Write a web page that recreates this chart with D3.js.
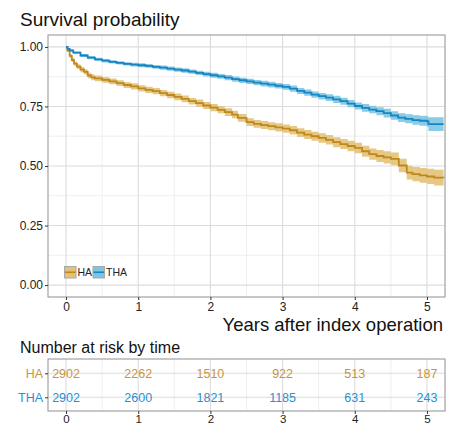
<!DOCTYPE html>
<html>
<head>
<meta charset="utf-8">
<script src="https://cdn.jsdelivr.net/npm/d3@7"></script>
<style>
  body { margin: 0; background: #fff; }
  text { font-family: "Liberation Sans", Arial, Helvetica, sans-serif; }
</style>
</head>
<body>
<div id="chart"></div>
<script>
// survival curves (years, survival, lower CI, upper CI)
const haTime  = [0, 0.02, 0.05, 0.08, 0.11, 0.15, 0.2, 0.25, 0.3, 0.35, 0.4, 0.5, 0.6, 0.7, 0.8, 0.9, 1.0, 1.1, 1.2, 1.3, 1.4, 1.5, 1.6, 1.7, 1.8, 1.9, 2.0, 2.1, 2.2, 2.3, 2.38, 2.5, 2.6, 2.7, 2.8, 2.9, 3.0, 3.1, 3.2, 3.3, 3.4, 3.5, 3.6, 3.7, 3.8, 3.9, 4.0, 4.1, 4.2, 4.3, 4.4, 4.5, 4.61, 4.72, 4.8, 4.9, 5.0, 5.1, 5.23];
const haSurv  = [1.000, 0.985, 0.962, 0.945, 0.930, 0.917, 0.905, 0.895, 0.880, 0.872, 0.868, 0.862, 0.855, 0.848, 0.840, 0.834, 0.826, 0.820, 0.814, 0.806, 0.798, 0.790, 0.782, 0.772, 0.764, 0.754, 0.745, 0.736, 0.726, 0.716, 0.702, 0.684, 0.677, 0.672, 0.667, 0.662, 0.657, 0.650, 0.640, 0.632, 0.625, 0.618, 0.610, 0.600, 0.592, 0.584, 0.576, 0.562, 0.550, 0.542, 0.536, 0.530, 0.502, 0.472, 0.466, 0.461, 0.456, 0.451, 0.450];
const haLower = [1.000, 0.980, 0.955, 0.937, 0.921, 0.907, 0.894, 0.884, 0.868, 0.860, 0.856, 0.850, 0.843, 0.836, 0.828, 0.821, 0.813, 0.807, 0.801, 0.793, 0.784, 0.776, 0.768, 0.758, 0.749, 0.739, 0.730, 0.721, 0.710, 0.700, 0.686, 0.668, 0.661, 0.655, 0.650, 0.645, 0.640, 0.632, 0.622, 0.613, 0.606, 0.598, 0.590, 0.579, 0.571, 0.562, 0.554, 0.539, 0.526, 0.517, 0.510, 0.503, 0.474, 0.443, 0.436, 0.430, 0.424, 0.418, 0.416];
const haUpper = [1.000, 0.990, 0.969, 0.953, 0.939, 0.927, 0.916, 0.906, 0.892, 0.884, 0.880, 0.874, 0.867, 0.860, 0.852, 0.847, 0.839, 0.833, 0.827, 0.819, 0.812, 0.804, 0.796, 0.786, 0.779, 0.769, 0.760, 0.751, 0.742, 0.732, 0.718, 0.700, 0.693, 0.689, 0.684, 0.679, 0.674, 0.668, 0.658, 0.651, 0.644, 0.638, 0.630, 0.621, 0.613, 0.606, 0.598, 0.585, 0.574, 0.567, 0.562, 0.557, 0.530, 0.501, 0.496, 0.492, 0.488, 0.484, 0.484];

const thaTime  = [0, 0.02, 0.05, 0.1, 0.2, 0.3, 0.4, 0.5, 0.6, 0.7, 0.8, 0.9, 1.0, 1.1, 1.2, 1.3, 1.4, 1.5, 1.6, 1.7, 1.8, 1.9, 2.0, 2.1, 2.2, 2.3, 2.4, 2.5, 2.6, 2.7, 2.8, 2.9, 3.0, 3.1, 3.2, 3.3, 3.4, 3.5, 3.6, 3.7, 3.8, 3.9, 4.0, 4.1, 4.2, 4.3, 4.4, 4.5, 4.6, 4.7, 4.8, 4.9, 5.0, 5.02, 5.23];
const thaSurv  = [1.000, 0.992, 0.985, 0.976, 0.964, 0.955, 0.948, 0.942, 0.937, 0.933, 0.929, 0.926, 0.923, 0.920, 0.916, 0.913, 0.909, 0.905, 0.901, 0.896, 0.891, 0.886, 0.881, 0.876, 0.871, 0.865, 0.860, 0.855, 0.850, 0.846, 0.842, 0.837, 0.832, 0.825, 0.815, 0.808, 0.800, 0.793, 0.787, 0.780, 0.772, 0.762, 0.752, 0.744, 0.737, 0.730, 0.722, 0.712, 0.703, 0.698, 0.693, 0.690, 0.687, 0.676, 0.676];
const thaLower = [1.000, 0.989, 0.981, 0.971, 0.958, 0.948, 0.941, 0.935, 0.930, 0.926, 0.922, 0.918, 0.915, 0.912, 0.908, 0.904, 0.900, 0.896, 0.892, 0.887, 0.882, 0.876, 0.871, 0.866, 0.860, 0.854, 0.849, 0.844, 0.839, 0.834, 0.830, 0.825, 0.820, 0.812, 0.802, 0.795, 0.787, 0.779, 0.773, 0.765, 0.757, 0.747, 0.737, 0.728, 0.721, 0.713, 0.704, 0.694, 0.685, 0.679, 0.673, 0.669, 0.665, 0.647, 0.646];
const thaUpper = [1.000, 0.995, 0.989, 0.981, 0.970, 0.962, 0.955, 0.949, 0.944, 0.940, 0.936, 0.934, 0.931, 0.928, 0.924, 0.922, 0.918, 0.914, 0.910, 0.905, 0.900, 0.896, 0.891, 0.886, 0.882, 0.876, 0.871, 0.866, 0.861, 0.858, 0.854, 0.849, 0.844, 0.838, 0.828, 0.821, 0.813, 0.807, 0.801, 0.795, 0.787, 0.777, 0.767, 0.760, 0.753, 0.747, 0.740, 0.730, 0.721, 0.717, 0.713, 0.711, 0.709, 0.705, 0.706];

// number at risk table
const groups = ["HA", "THA"];
const riskTimes = [0, 1, 2, 3, 4, 5];
const riskHA = [2902, 2262, 1510, 922, 513, 187];
const riskTHA = [2902, 2600, 1821, 1185, 631, 243];

const xTicks = [0, 1, 2, 3, 4, 5];
const yTicks = [0, 0.25, 0.5, 0.75, 1.0];

const colors = {
  HA:  { line: "#BF8720", fill: "#E3C275", text: "#C8953E" },
  THA: { line: "#1983C4", fill: "#7BC6E3", text: "#2B8FD3" }
};

const W = 449, H = 426;
const panel = { left: 48, right: 445, top: 35, bottom: 297 };
const risk = { top: 359, bottom: 411 };

const svg = d3.select("#chart").append("svg")
  .attr("width", W).attr("height", H);

const x = d3.scaleLinear().domain([-0.25, 5.25]).range([panel.left, panel.right]);
const y = d3.scaleLinear().domain([-0.05, 1.05]).range([panel.bottom, panel.top]);

// title
svg.append("text").attr("x", 20).attr("y", 25.5)
  .attr("font-size", 19).attr("fill", "#111").text("Survival probability");

// grid
const grid = svg.append("g");
const minorX = [0.5, 1.5, 2.5, 3.5, 4.5];
const minorY = [0.125, 0.375, 0.625, 0.875];
grid.selectAll(".mx").data(minorX).enter().append("line")
  .attr("x1", d => x(d)).attr("x2", d => x(d))
  .attr("y1", panel.top).attr("y2", panel.bottom)
  .attr("stroke", "#EBEBEB").attr("stroke-width", 0.8);
grid.selectAll(".my").data(minorY).enter().append("line")
  .attr("x1", panel.left).attr("x2", panel.right)
  .attr("y1", d => y(d)).attr("y2", d => y(d))
  .attr("stroke", "#EBEBEB").attr("stroke-width", 0.8);
grid.selectAll(".gx").data(xTicks).enter().append("line")
  .attr("x1", d => x(d)).attr("x2", d => x(d))
  .attr("y1", panel.top).attr("y2", panel.bottom)
  .attr("stroke", "#DCDCDC").attr("stroke-width", 1.1);
grid.selectAll(".gy").data(yTicks).enter().append("line")
  .attr("x1", panel.left).attr("x2", panel.right)
  .attr("y1", d => y(d)).attr("y2", d => y(d))
  .attr("stroke", "#DCDCDC").attr("stroke-width", 1.1);

// curves
const series = [
  { key: "HA",  t: haTime,  s: haSurv,  lo: haLower,  hi: haUpper },
  { key: "THA", t: thaTime, s: thaSurv, lo: thaLower, hi: thaUpper }
];

const area = d3.area().curve(d3.curveStepAfter)
  .x(d => x(d.t)).y0(d => y(d.lo)).y1(d => y(d.hi));
const line = d3.line().curve(d3.curveStepAfter)
  .x(d => x(d.t)).y(d => y(d.s));

series.forEach(se => {
  const pts = se.t.map((t, i) => ({ t, s: se.s[i], lo: se.lo[i], hi: se.hi[i] }));
  svg.append("path").datum(pts).attr("d", area)
    .attr("fill", colors[se.key].fill).attr("opacity", 0.9);
  svg.append("path").datum(pts).attr("d", line)
    .attr("fill", "none").attr("stroke", colors[se.key].line).attr("stroke-width", 1.8);
});

// panel border
svg.append("rect").attr("x", panel.left).attr("y", panel.top)
  .attr("width", panel.right - panel.left).attr("height", panel.bottom - panel.top)
  .attr("fill", "none").attr("stroke", "#9A9A9A").attr("stroke-width", 1.1);

// axes
const yAxis = svg.append("g").attr("transform", `translate(${panel.left},0)`)
  .call(d3.axisLeft(y).tickValues(yTicks).tickFormat(d3.format(".2f")).tickSize(3).tickPadding(2));
const xAxis = svg.append("g").attr("transform", `translate(0,${panel.bottom})`)
  .call(d3.axisBottom(x).tickValues(xTicks).tickFormat(d3.format("d")).tickSize(3).tickPadding(2));
[xAxis, yAxis].forEach(a => {
  a.select(".domain").remove();
  a.selectAll(".tick line").attr("stroke", "#333");
  a.selectAll(".tick text").attr("font-size", 12).attr("fill", "#222")
    .attr("font-family", "Liberation Sans, Arial, sans-serif");
});

svg.append("text").attr("x", 443).attr("y", 331).attr("text-anchor", "end")
  .attr("font-size", 18.5).attr("fill", "#111").text("Years after index operation");

// legend
const legend = svg.append("g").attr("transform", "translate(64,266)");
const legendItems = [{ key: "HA", x: 0 }, { key: "THA", x: 28.5 }];
legendItems.forEach(it => {
  const g = legend.append("g").attr("transform", `translate(${it.x},0)`);
  g.append("rect").attr("x", 0.5).attr("y", 0.5).attr("width", 11.5).attr("height", 11.5)
    .attr("fill", colors[it.key].fill).attr("stroke", "#A8A8A8").attr("stroke-width", 1);
  g.append("line").attr("x1", 1).attr("x2", 11.5).attr("y1", 6.25).attr("y2", 6.25)
    .attr("stroke", colors[it.key].line).attr("stroke-width", 1.6);
  g.append("text").attr("x", 13.5).attr("y", 9.8).attr("font-size", 10.5)
    .attr("fill", "#222").text(it.key);
});

// risk table
svg.append("text").attr("x", 20).attr("y", 352.5)
  .attr("font-size", 16).attr("fill", "#111").text("Number at risk by time");

const ry = d3.scalePoint().domain(groups).range([risk.top + 14.3, risk.bottom - 13.7]);

svg.selectAll(".rmx").data(minorX).enter().append("line")
  .attr("x1", d => x(d)).attr("x2", d => x(d))
  .attr("y1", risk.top).attr("y2", risk.bottom)
  .attr("stroke", "#EBEBEB").attr("stroke-width", 0.8);
svg.selectAll(".rgx").data(xTicks).enter().append("line")
  .attr("x1", d => x(d)).attr("x2", d => x(d))
  .attr("y1", risk.top).attr("y2", risk.bottom)
  .attr("stroke", "#DCDCDC").attr("stroke-width", 1.1);
svg.selectAll(".rgy").data(groups).enter().append("line")
  .attr("x1", panel.left).attr("x2", panel.right)
  .attr("y1", d => ry(d)).attr("y2", d => ry(d))
  .attr("stroke", "#DCDCDC").attr("stroke-width", 1.1);

const riskRows = [{ key: "HA", vals: riskHA }, { key: "THA", vals: riskTHA }];
riskRows.forEach(r => {
  svg.append("g").selectAll("text").data(riskTimes).enter().append("text")
    .attr("x", d => x(d)).attr("y", ry(r.key)).attr("dy", "0.36em")
    .attr("text-anchor", "middle").attr("font-size", 12.5)
    .attr("fill", colors[r.key].text)
    .text((d, i) => r.vals[i]);
});

svg.append("rect").attr("x", panel.left).attr("y", risk.top)
  .attr("width", panel.right - panel.left).attr("height", risk.bottom - risk.top)
  .attr("fill", "none").attr("stroke", "#9A9A9A").attr("stroke-width", 1.1);

const ryAxis = svg.append("g").attr("transform", `translate(${panel.left},0)`)
  .call(d3.axisLeft(ry).tickSize(3).tickPadding(2));
const rxAxis = svg.append("g").attr("transform", `translate(0,${risk.bottom})`)
  .call(d3.axisBottom(x).tickValues(xTicks).tickFormat(d3.format("d")).tickSize(3).tickPadding(1));
[ryAxis, rxAxis].forEach(a => {
  a.select(".domain").remove();
  a.selectAll(".tick line").attr("stroke", "#333");
  a.selectAll(".tick text").attr("font-size", 11.5).attr("fill", "#222")
    .attr("font-family", "Liberation Sans, Arial, sans-serif");
});
ryAxis.selectAll(".tick text").attr("fill", d => colors[d].text).attr("font-size", 12.5);
</script>
</body>
</html>
